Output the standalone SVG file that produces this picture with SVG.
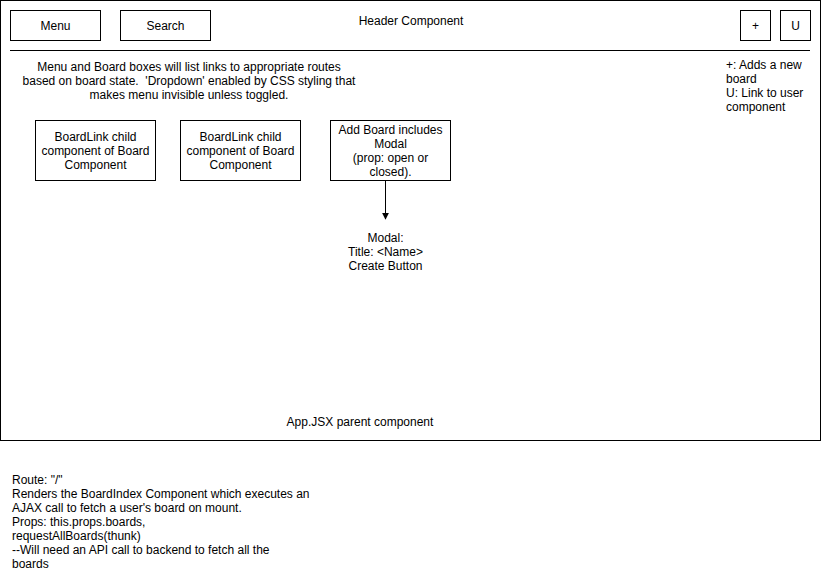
<svg xmlns="http://www.w3.org/2000/svg" width="821" height="581" viewBox="0 0 821 581">
  <style>
    text { font-family: "Liberation Sans", Arial, Helvetica, sans-serif; font-size: 12px; fill: #000; white-space: pre; }
    .c { text-anchor: middle; }
    .box { fill: #fff; stroke: #000; stroke-width: 1; }
    .ln { stroke: #000; stroke-width: 1; fill: none; }
  </style>
  <defs>
    <marker id="arrow" viewBox="0 0 10 10" refX="9" refY="5" markerWidth="7" markerHeight="7" orient="auto" markerUnits="userSpaceOnUse">
      <path d="M0,0 L10,5 L0,10 z" fill="#000"/>
    </marker>
  </defs>
  <rect width="821" height="581" fill="#fff"/>

  <g id="app">
    <rect class="box" x="0.5" y="0.5" width="820" height="440"/>
    <text class="c" x="360" y="426">App.JSX parent component</text>
  </g>

  <g id="header">
    <text class="c" x="411" y="25">Header Component</text>
    <line class="ln" x1="10" y1="50.5" x2="810" y2="50.5"/>
  </g>

  <g id="menu">
    <rect class="box" x="10.5" y="10.5" width="90" height="30"/>
    <text class="c" x="55.5" y="30">Menu</text>
  </g>
  <g id="search">
    <rect class="box" x="120.5" y="10.5" width="90" height="30"/>
    <text class="c" x="165.5" y="30">Search</text>
  </g>
  <g id="add">
    <rect class="box" x="740.5" y="10.5" width="30" height="30"/>
    <text class="c" x="755.5" y="30">+</text>
  </g>
  <g id="user">
    <rect class="box" x="780.5" y="10.5" width="30" height="30"/>
    <text class="c" x="795.5" y="30">U</text>
  </g>

  <g id="menu-note">
    <text class="c" x="189" y="71">Menu and Board boxes will list links to appropriate routes</text>
    <text class="c" x="189" y="85" xml:space="preserve">based on board state.  'Dropdown' enabled by CSS styling that</text>
    <text class="c" x="189" y="99">makes menu invisible unless toggled.</text>
  </g>

  <g id="header-note">
    <text x="726" y="69">+: Adds a new</text>
    <text x="726" y="83">board</text>
    <text x="726" y="97">U: Link to user</text>
    <text x="726" y="111">component</text>
  </g>

  <g id="boardlink-1">
    <rect class="box" x="35.5" y="120.5" width="120" height="60"/>
    <text class="c" x="95.5" y="141">BoardLink child</text>
    <text class="c" x="95.5" y="155">component of Board</text>
    <text class="c" x="95.5" y="169">Component</text>
  </g>
  <g id="boardlink-2">
    <rect class="box" x="180.5" y="120.5" width="120" height="60"/>
    <text class="c" x="240.5" y="141">BoardLink child</text>
    <text class="c" x="240.5" y="155">component of Board</text>
    <text class="c" x="240.5" y="169">Component</text>
  </g>
  <g id="add-board">
    <rect class="box" x="330.5" y="120.5" width="120" height="60"/>
    <text class="c" x="390.5" y="134">Add Board includes</text>
    <text class="c" x="390.5" y="148">Modal</text>
    <text class="c" x="390.5" y="162">(prop: open or</text>
    <text class="c" x="390.5" y="176">closed).</text>
  </g>

  <g id="modal">
    <text class="c" x="385.5" y="242">Modal:</text>
    <text class="c" x="385.5" y="256">Title: &lt;Name&gt;</text>
    <text class="c" x="385.5" y="270">Create Button</text>
  </g>

  <g id="connectors">
    <line class="ln" x1="385.5" y1="181" x2="385.5" y2="219" marker-end="url(#arrow)"/>
  </g>

  <g id="route-note">
    <text x="12" y="484">Route: "/"</text>
    <text x="12" y="498">Renders the BoardIndex Component which executes an</text>
    <text x="12" y="512">AJAX call to fetch a user's board on mount.</text>
    <text x="12" y="526">Props: this.props.boards,</text>
    <text x="12" y="540">requestAllBoards(thunk)</text>
    <text x="12" y="554">--Will need an API call to backend to fetch all the</text>
    <text x="12" y="568">boards</text>
  </g>
</svg>
